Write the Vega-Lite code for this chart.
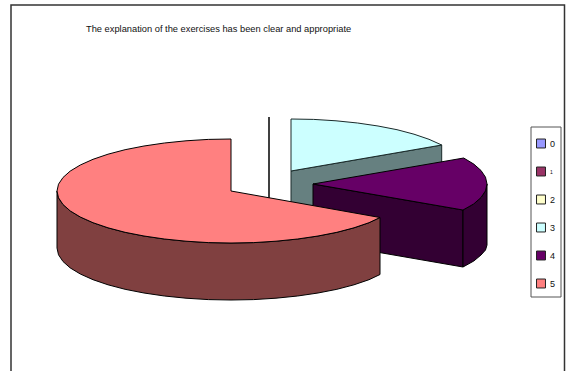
{
  "$schema": "https://vega.github.io/schema/vega-lite/v6.json",
  "width": 566,
  "height": 371,
  "padding": 0,
  "autosize": "none",
  "background": "white",
  "view": {"stroke": null},
  "title": {
    "text": "The explanation of the exercises has been clear and appropriate",
    "anchor": "start",
    "frame": "group",
    "orient": "top",
    "dx": 86,
    "offset": -34,
    "font": "Liberation Sans",
    "fontSize": 9.3,
    "fontWeight": "normal",
    "color": "#111111"
  },
  "datasets": {
    "outline": [
      {"face":"teal-side","category":"3","seq":0,"x":291,"y":171},{"face":"teal-side","category":"3","seq":1,"x":441.7,"y":145},{"face":"teal-side","category":"3","seq":2,"x":441.7,"y":202},{"face":"teal-side","category":"3","seq":3,"x":291,"y":228},{"face":"teal-side","category":"3","seq":4,"x":291,"y":171},

      {"face":"teal-top","category":"3","seq":0,"x":291,"y":171},{"face":"teal-top","category":"3","seq":1,"x":291,"y":119},{"face":"teal-top","category":"3","seq":2,"x":313.7,"y":119.4},{"face":"teal-top","category":"3","seq":3,"x":336,"y":120.8},{"face":"teal-top","category":"3","seq":4,"x":357.6,"y":123},{"face":"teal-top","category":"3","seq":5,"x":378,"y":126},{"face":"teal-top","category":"3","seq":6,"x":397,"y":129.7},{"face":"teal-top","category":"3","seq":7,"x":414,"y":134.2},{"face":"teal-top","category":"3","seq":8,"x":429,"y":139.3},{"face":"teal-top","category":"3","seq":9,"x":441.7,"y":145},{"face":"teal-top","category":"3","seq":10,"x":291,"y":171},

      {"face":"purple-cut","category":"4","seq":0,"x":313,"y":184},{"face":"purple-cut","category":"4","seq":1,"x":463,"y":210},{"face":"purple-cut","category":"4","seq":2,"x":463,"y":267},{"face":"purple-cut","category":"4","seq":3,"x":313,"y":241},{"face":"purple-cut","category":"4","seq":4,"x":313,"y":184},

      {"face":"purple-rim","category":"4","seq":0,"x":487,"y":184},{"face":"purple-rim","category":"4","seq":1,"x":485.5,"y":190.8},{"face":"purple-rim","category":"4","seq":2,"x":481,"y":197.5},{"face":"purple-rim","category":"4","seq":3,"x":473.8,"y":203.9},{"face":"purple-rim","category":"4","seq":4,"x":463,"y":210},{"face":"purple-rim","category":"4","seq":5,"x":463,"y":267},{"face":"purple-rim","category":"4","seq":6,"x":473.8,"y":261},{"face":"purple-rim","category":"4","seq":7,"x":481,"y":255},{"face":"purple-rim","category":"4","seq":8,"x":485.5,"y":250},{"face":"purple-rim","category":"4","seq":9,"x":487,"y":245},{"face":"purple-rim","category":"4","seq":10,"x":487,"y":184},

      {"face":"purple-top","category":"4","seq":0,"x":313,"y":184},{"face":"purple-top","category":"4","seq":1,"x":463.7,"y":158},{"face":"purple-top","category":"4","seq":2,"x":473.8,"y":164.1},{"face":"purple-top","category":"4","seq":3,"x":481,"y":170.5},{"face":"purple-top","category":"4","seq":4,"x":485.5,"y":177.2},{"face":"purple-top","category":"4","seq":5,"x":487,"y":184},{"face":"purple-top","category":"4","seq":6,"x":485.5,"y":190.8},{"face":"purple-top","category":"4","seq":7,"x":481,"y":197.5},{"face":"purple-top","category":"4","seq":8,"x":473.8,"y":203.9},{"face":"purple-top","category":"4","seq":9,"x":463,"y":210},{"face":"purple-top","category":"4","seq":10,"x":313,"y":184},

      {"face":"salmon-side","category":"5","seq":0,"x":57,"y":191},{"face":"salmon-side","category":"5","seq":1,"x":58.5,"y":197.8},{"face":"salmon-side","category":"5","seq":2,"x":63,"y":204.5},{"face":"salmon-side","category":"5","seq":3,"x":70.2,"y":210.9},{"face":"salmon-side","category":"5","seq":4,"x":80.3,"y":217},{"face":"salmon-side","category":"5","seq":5,"x":93,"y":222.7},{"face":"salmon-side","category":"5","seq":6,"x":108,"y":227.8},{"face":"salmon-side","category":"5","seq":7,"x":125.1,"y":232.3},{"face":"salmon-side","category":"5","seq":8,"x":144,"y":236},{"face":"salmon-side","category":"5","seq":9,"x":164.4,"y":239},{"face":"salmon-side","category":"5","seq":10,"x":186,"y":241.2},{"face":"salmon-side","category":"5","seq":11,"x":208.3,"y":242.6},{"face":"salmon-side","category":"5","seq":12,"x":231,"y":243},{"face":"salmon-side","category":"5","seq":13,"x":253.7,"y":242.6},{"face":"salmon-side","category":"5","seq":14,"x":276,"y":241.2},{"face":"salmon-side","category":"5","seq":15,"x":297.6,"y":239},{"face":"salmon-side","category":"5","seq":16,"x":318,"y":236},{"face":"salmon-side","category":"5","seq":17,"x":336.9,"y":232.3},{"face":"salmon-side","category":"5","seq":18,"x":354,"y":227.8},{"face":"salmon-side","category":"5","seq":19,"x":369,"y":222.7},{"face":"salmon-side","category":"5","seq":20,"x":380,"y":217.5},
      {"face":"salmon-side","category":"5","seq":21,"x":380,"y":274.5},{"face":"salmon-side","category":"5","seq":22,"x":369,"y":279.7},{"face":"salmon-side","category":"5","seq":23,"x":354,"y":284.8},{"face":"salmon-side","category":"5","seq":24,"x":336.9,"y":289.3},{"face":"salmon-side","category":"5","seq":25,"x":318,"y":293},{"face":"salmon-side","category":"5","seq":26,"x":297.6,"y":296},{"face":"salmon-side","category":"5","seq":27,"x":276,"y":298.2},{"face":"salmon-side","category":"5","seq":28,"x":253.7,"y":299.6},{"face":"salmon-side","category":"5","seq":29,"x":231,"y":300},{"face":"salmon-side","category":"5","seq":30,"x":208.3,"y":299.6},{"face":"salmon-side","category":"5","seq":31,"x":186,"y":298.2},{"face":"salmon-side","category":"5","seq":32,"x":164.4,"y":296},{"face":"salmon-side","category":"5","seq":33,"x":144,"y":293},{"face":"salmon-side","category":"5","seq":34,"x":125.1,"y":289.3},{"face":"salmon-side","category":"5","seq":35,"x":108,"y":284.8},{"face":"salmon-side","category":"5","seq":36,"x":93,"y":279.7},{"face":"salmon-side","category":"5","seq":37,"x":80.3,"y":274},{"face":"salmon-side","category":"5","seq":38,"x":70.2,"y":267.9},{"face":"salmon-side","category":"5","seq":39,"x":63,"y":261.5},{"face":"salmon-side","category":"5","seq":40,"x":58.5,"y":254.8},{"face":"salmon-side","category":"5","seq":41,"x":57,"y":248},{"face":"salmon-side","category":"5","seq":42,"x":57,"y":191},

      {"face":"salmon-top","category":"5","seq":0,"x":231,"y":191},{"face":"salmon-top","category":"5","seq":1,"x":231,"y":139},{"face":"salmon-top","category":"5","seq":2,"x":208.3,"y":139.4},{"face":"salmon-top","category":"5","seq":3,"x":186,"y":140.8},{"face":"salmon-top","category":"5","seq":4,"x":164.4,"y":143},{"face":"salmon-top","category":"5","seq":5,"x":144,"y":146},{"face":"salmon-top","category":"5","seq":6,"x":125.1,"y":149.7},{"face":"salmon-top","category":"5","seq":7,"x":108,"y":154.2},{"face":"salmon-top","category":"5","seq":8,"x":93,"y":159.3},{"face":"salmon-top","category":"5","seq":9,"x":80.3,"y":165},{"face":"salmon-top","category":"5","seq":10,"x":70.2,"y":171.1},{"face":"salmon-top","category":"5","seq":11,"x":63,"y":177.5},{"face":"salmon-top","category":"5","seq":12,"x":58.5,"y":184.2},{"face":"salmon-top","category":"5","seq":13,"x":57,"y":191},{"face":"salmon-top","category":"5","seq":14,"x":58.5,"y":197.8},{"face":"salmon-top","category":"5","seq":15,"x":63,"y":204.5},{"face":"salmon-top","category":"5","seq":16,"x":70.2,"y":210.9},{"face":"salmon-top","category":"5","seq":17,"x":80.3,"y":217},{"face":"salmon-top","category":"5","seq":18,"x":93,"y":222.7},{"face":"salmon-top","category":"5","seq":19,"x":108,"y":227.8},{"face":"salmon-top","category":"5","seq":20,"x":125.1,"y":232.3},{"face":"salmon-top","category":"5","seq":21,"x":144,"y":236},{"face":"salmon-top","category":"5","seq":22,"x":164.4,"y":239},{"face":"salmon-top","category":"5","seq":23,"x":186,"y":241.2},{"face":"salmon-top","category":"5","seq":24,"x":208.3,"y":242.6},{"face":"salmon-top","category":"5","seq":25,"x":231,"y":243},{"face":"salmon-top","category":"5","seq":26,"x":253.7,"y":242.6},{"face":"salmon-top","category":"5","seq":27,"x":276,"y":241.2},{"face":"salmon-top","category":"5","seq":28,"x":297.6,"y":239},{"face":"salmon-top","category":"5","seq":29,"x":318,"y":236},{"face":"salmon-top","category":"5","seq":30,"x":336.9,"y":232.3},{"face":"salmon-top","category":"5","seq":31,"x":354,"y":227.8},{"face":"salmon-top","category":"5","seq":32,"x":369,"y":222.7},{"face":"salmon-top","category":"5","seq":33,"x":380,"y":217.5},{"face":"salmon-top","category":"5","seq":34,"x":231,"y":191}
    ]
  },
  "encoding": {
    "x": {"field": "x", "type": "quantitative", "scale": {"domain": [0, 566], "nice": false, "zero": false}, "axis": null},
    "y": {"field": "y", "type": "quantitative", "scale": {"domain": [371, 0], "nice": false, "zero": false}, "axis": null}
  },
  "layer": [
    {
      "data": {"values": [{"x": 11, "x2": 564.5, "y": 5, "y2": 380}]},
      "mark": {"type": "rect", "fill": "white", "stroke": "#333333", "strokeWidth": 1.5},
      "encoding": {"x2": {"field": "x2"}, "y2": {"field": "y2"}}
    },
    {
      "data": {"values": [{"x": 531, "x2": 561, "y": 127, "y2": 297}]},
      "mark": {"type": "rect", "fill": "white", "stroke": "#555555", "strokeWidth": 1},
      "encoding": {"x2": {"field": "x2"}, "y2": {"field": "y2"}}
    },
    {
      "data": {"values": [{"x": 269, "y": 117, "y2": 198}]},
      "mark": {"type": "rule", "stroke": "black", "strokeWidth": 1.5},
      "encoding": {"y2": {"field": "y2"}}
    },
    {
      "data": {"name": "outline"},
      "transform": [{"filter": "datum.face === 'teal-side'"}],
      "mark": {"type": "line", "fill": "#668080", "stroke": "#1a2a2a", "strokeWidth": 1},
      "encoding": {"order": {"field": "seq"}}
    },
    {
      "data": {"name": "outline"},
      "transform": [{"filter": "datum.face === 'teal-top'"}],
      "mark": {"type": "line", "stroke": "#1a2a2a", "strokeWidth": 1},
      "encoding": {
        "order": {"field": "seq"},
        "fill": {
          "field": "category",
          "type": "nominal",
          "scale": {
            "domain": ["0", "1", "2", "3", "4", "5"],
            "range": ["#9999FF", "#993366", "#FFFFCC", "#CCFFFF", "#660066", "#FF8080"]
          },
          "legend": {
            "title": null,
            "orient": "none",
            "legendX": 536,
            "legendY": 138.5,
            "symbolType": "square",
            "symbolSize": 80,
            "symbolStrokeColor": "#222222",
            "symbolStrokeWidth": 1,
            "symbolOpacity": 1,
            "labelFont": "Liberation Sans",
            "labelFontSize": 9,
            "labelColor": "#111111",
            "labelOffset": 4,
            "rowPadding": 14,
            "padding": 0,
            "encode": {
              "labels": {"update": {"fontSize": {"signal": "datum.label === '1' ? 5 : 9"}}}
            }
          }
        }
      }
    },
    {
      "data": {"name": "outline"},
      "transform": [{"filter": "datum.face === 'purple-cut'"}],
      "mark": {"type": "line", "fill": "#330033", "stroke": "black", "strokeWidth": 1},
      "encoding": {"order": {"field": "seq"}}
    },
    {
      "data": {"name": "outline"},
      "transform": [{"filter": "datum.face === 'purple-rim'"}],
      "mark": {"type": "line", "fill": "#330033", "stroke": "black", "strokeWidth": 1},
      "encoding": {"order": {"field": "seq"}}
    },
    {
      "data": {"name": "outline"},
      "transform": [{"filter": "datum.face === 'purple-top'"}],
      "mark": {"type": "line", "stroke": "black", "strokeWidth": 1},
      "encoding": {"order": {"field": "seq"}, "fill": {"field": "category", "type": "nominal"}}
    },
    {
      "data": {"name": "outline"},
      "transform": [{"filter": "datum.face === 'salmon-side'"}],
      "mark": {"type": "line", "fill": "#804040", "stroke": "black", "strokeWidth": 1},
      "encoding": {"order": {"field": "seq"}}
    },
    {
      "data": {"name": "outline"},
      "transform": [{"filter": "datum.face === 'salmon-top'"}],
      "mark": {"type": "line", "stroke": "black", "strokeWidth": 1},
      "encoding": {"order": {"field": "seq"}, "fill": {"field": "category", "type": "nominal"}}
    }
  ]
}
